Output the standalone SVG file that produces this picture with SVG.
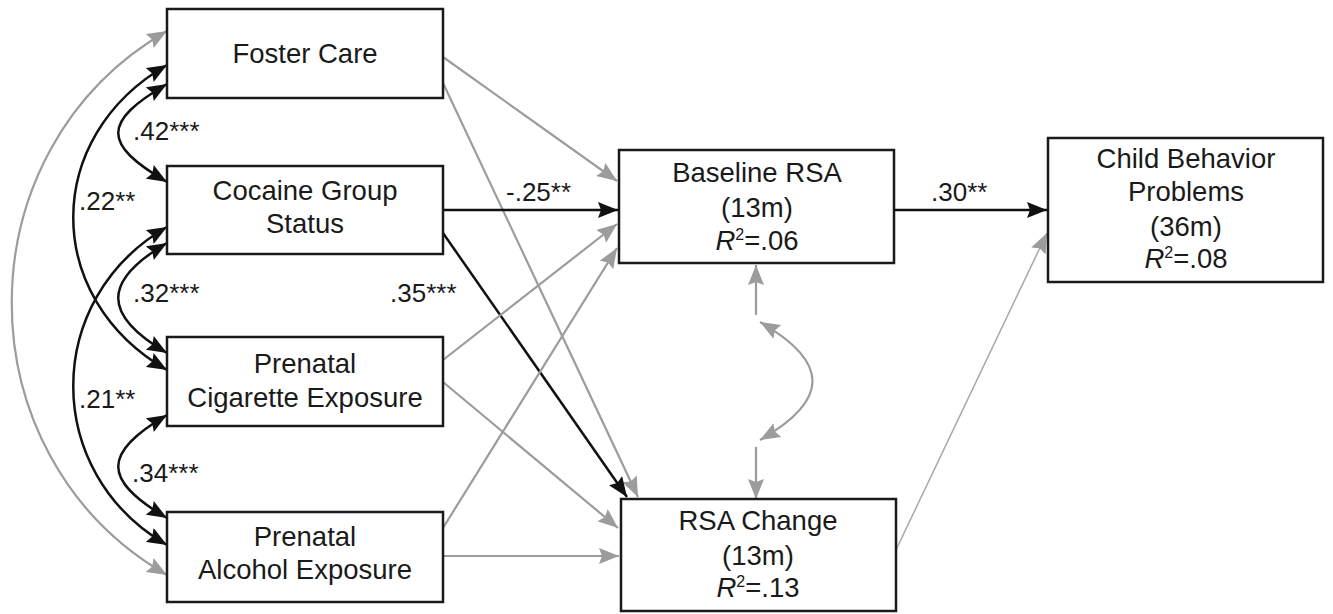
<svg xmlns="http://www.w3.org/2000/svg" width="1333" height="614" viewBox="0 0 1333 614">
<style>
  .box{fill:#fff;stroke:#1a1a1a;stroke-width:2.5}
  .t{font-family:"Liberation Sans",Arial,sans-serif;font-size:27.5px;fill:#1a1a1a;text-anchor:middle}
  .lbl{font-family:"Liberation Sans",Arial,sans-serif;font-size:26px;fill:#1a1a1a}
  .blk{fill:none;stroke:#111;stroke-width:2.5}
  .gry{fill:none;stroke:#9c9c9c;stroke-width:2.2}
  .thin{fill:none;stroke:#a8a8a8;stroke-width:1.5}
</style>
<defs>
  <marker id="ab" viewBox="0 0 20 16" refX="20" refY="8" markerWidth="20" markerHeight="16" markerUnits="userSpaceOnUse" orient="auto-start-reverse">
    <path d="M0,0 L20,8 L0,16 L3,8 z" fill="#111"/>
  </marker>
  <marker id="ag" viewBox="0 0 20 16" refX="20" refY="8" markerWidth="20" markerHeight="16" markerUnits="userSpaceOnUse" orient="auto-start-reverse">
    <path d="M0,0 L20,8 L0,16 L3,8 z" fill="#9c9c9c"/>
  </marker>
</defs>
<rect width="1333" height="614" fill="#fff"/>

<g id="connectors">
  <!-- left covariances -->
  <path class="gry" d="M167,31 C-40,150 -40,456 167,575" marker-start="url(#ag)" marker-end="url(#ag)"/>
  <path class="blk" d="M167,65 C42,137 42,298 167,370" marker-start="url(#ab)" marker-end="url(#ab)"/>
  <path class="blk" d="M167,84 C102,122 102,144 167,182" marker-start="url(#ab)" marker-end="url(#ab)"/>
  <path class="blk" d="M167,227 C42,299 42,473 167,545" marker-start="url(#ab)" marker-end="url(#ab)"/>
  <path class="blk" d="M167,243 C102,281 102,315 167,353" marker-start="url(#ab)" marker-end="url(#ab)"/>
  <path class="blk" d="M167,415 C102,453 102,480 167,518" marker-start="url(#ab)" marker-end="url(#ab)"/>
  <!-- paths to Baseline RSA / RSA Change -->
  <path class="gry" d="M443,57 L617,181" marker-end="url(#ag)"/>
  <path class="gry" d="M443,83 L638,497" marker-end="url(#ag)"/>
  <path class="blk" d="M443,210 L618,210" marker-end="url(#ab)"/>
  <path class="blk" d="M443,233 L627,497" marker-end="url(#ab)"/>
  <path class="gry" d="M443,360 L617,224" marker-end="url(#ag)"/>
  <path class="gry" d="M443,382 L618,528" marker-end="url(#ag)"/>
  <path class="gry" d="M443,528 L617,248" marker-end="url(#ag)"/>
  <path class="gry" d="M443,556 L619,556" marker-end="url(#ag)"/>
  <!-- to Child Behavior Problems -->
  <path class="blk" d="M894,210 L1047,210" marker-end="url(#ab)"/>
  <path class="thin" d="M895,552 L1047,233" marker-end="url(#ag)"/>
  <!-- residual covariance -->
  <path class="gry" d="M756,315 L756,265" marker-end="url(#ag)"/>
  <path class="gry" d="M756,447 L756,499" marker-end="url(#ag)"/>
  <path class="gry" d="M760,440 C830,400 830,362 760,322" marker-start="url(#ag)" marker-end="url(#ag)"/>
</g>

<g id="labels">
  <text class="lbl" x="133" y="140">.42***</text>
  <text class="lbl" x="79" y="210">.22**</text>
  <text class="lbl" x="133" y="302">.32***</text>
  <text class="lbl" x="390" y="302">.35***</text>
  <text class="lbl" x="79" y="408">.21**</text>
  <text class="lbl" x="132" y="482">.34***</text>
  <text class="lbl" x="506" y="201">-.25**</text>
  <text class="lbl" x="931" y="201">.30**</text>
</g>

<g id="foster-care">
  <rect class="box" x="167" y="9" width="276" height="89"/>
  <text class="t" x="305" y="63">Foster Care</text>
</g>
<g id="cocaine-group-status">
  <rect class="box" x="167" y="166" width="276" height="88"/>
  <text class="t" x="305" y="200">Cocaine Group</text>
  <text class="t" x="305" y="233">Status</text>
</g>
<g id="prenatal-cigarette">
  <rect class="box" x="167" y="337" width="276" height="89"/>
  <text class="t" x="305" y="373">Prenatal</text>
  <text class="t" x="305" y="407">Cigarette Exposure</text>
</g>
<g id="prenatal-alcohol">
  <rect class="box" x="167" y="512" width="276" height="90"/>
  <text class="t" x="305" y="546">Prenatal</text>
  <text class="t" x="305" y="579">Alcohol Exposure</text>
</g>
<g id="baseline-rsa">
  <rect class="box" x="619" y="150" width="275" height="113"/>
  <text class="t" x="757" y="182">Baseline RSA</text>
  <text class="t" x="757" y="217">(13m)</text>
  <text class="t" x="757" y="250"><tspan font-style="italic">R</tspan><tspan font-size="16" dy="-10">2</tspan><tspan dy="10">=.06</tspan></text>
</g>
<g id="rsa-change">
  <rect class="box" x="621" y="499" width="275" height="112"/>
  <text class="t" x="758" y="530">RSA Change</text>
  <text class="t" x="758" y="565">(13m)</text>
  <text class="t" x="758" y="597"><tspan font-style="italic">R</tspan><tspan font-size="16" dy="-10">2</tspan><tspan dy="10">=.13</tspan></text>
</g>
<g id="child-behavior-problems">
  <rect class="box" x="1048" y="138" width="275" height="144"/>
  <text class="t" x="1186" y="168">Child Behavior</text>
  <text class="t" x="1186" y="201">Problems</text>
  <text class="t" x="1186" y="236">(36m)</text>
  <text class="t" x="1186" y="268"><tspan font-style="italic">R</tspan><tspan font-size="16" dy="-10">2</tspan><tspan dy="10">=.08</tspan></text>
</g>
</svg>
